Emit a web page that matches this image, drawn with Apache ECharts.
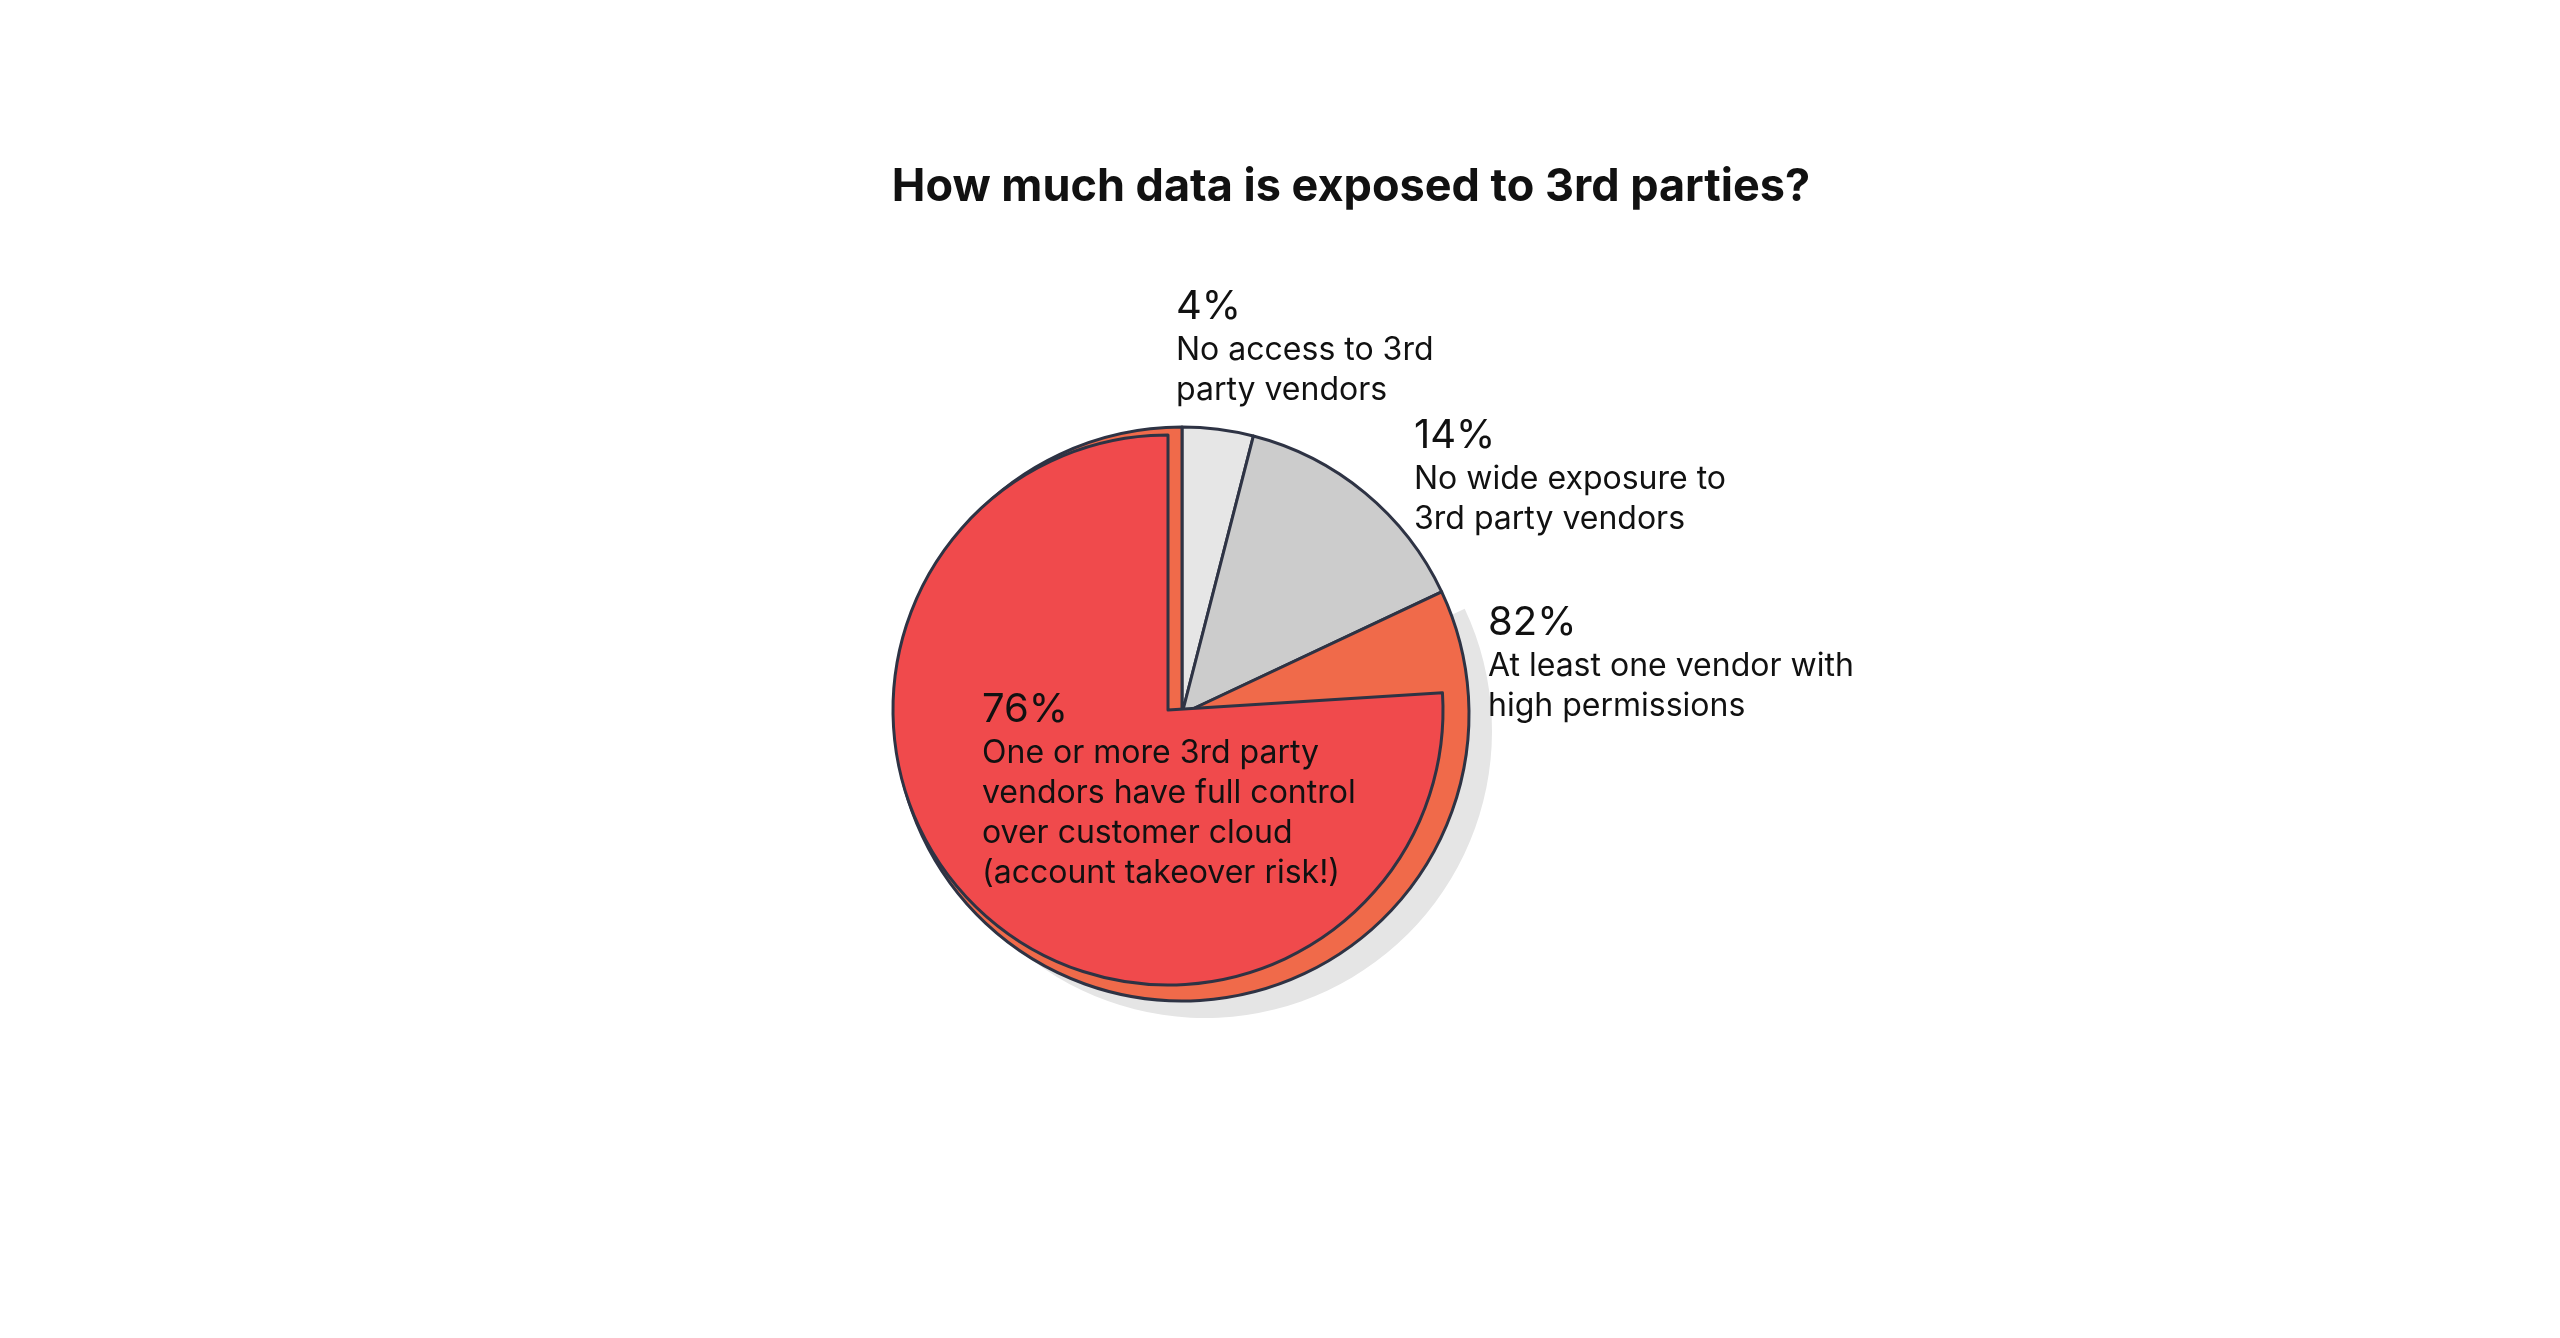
<!DOCTYPE html>
<html><head><meta charset="utf-8">
<script src="https://cdn.jsdelivr.net/npm/echarts@6/dist/echarts.min.js"></script>
<style>html,body{margin:0;background:#fff}#c{width:2560px;height:1338px}</style>
</head><body><div id="c"></div>
<script>
const categories = ['No access to 3rd party vendors','No wide exposure to 3rd party vendors','At least one vendor with high permissions'];
const values = [4, 14, 82];
const innerValue = 76;
const innerLabel = 'One or more 3rd party vendors have full control over customer cloud (account takeover risk!)';
const colors = ['#e6e6e6','#cccccc','#f06a4a'];
const stroke = '#2e3344';
const chart = echarts.init(document.getElementById('c'));
const cx = 1182, cy = 714;
function txt(x,y,pct,lines){
  return {type:'text',z:100,left:x,top:y,style:{text:'{p|'+pct+'}\n'+lines.map(l=>'{t|'+l+'}').join('\n'),
    rich:{p:{fontSize:40,lineHeight:46,fill:'#111',fontFamily:'Inter'},t:{fontSize:32,lineHeight:40,fill:'#111',fontFamily:'Inter'}}}};
}
chart.setOption({
  title:{text:'How much data is exposed to 3rd parties?',left:1346,top:160,textAlign:'center',
    textStyle:{fontSize:45,fontWeight:'bold',color:'#111',fontFamily:'Inter'}},
  series:[
    {type:'pie',silent:true,z:1,center:[cx+23,cy+17],radius:287,startAngle:90,label:{show:false},
     data:values.map((v,i)=>({value:v,itemStyle:{color:i==2?'#e5e5e5':'rgba(0,0,0,0)'}}))},
    {type:'pie',silent:true,z:2,center:[cx,cy],radius:287,startAngle:90,label:{show:false},
     itemStyle:{borderColor:stroke,borderWidth:3},
     data:values.map((v,i)=>({value:v,itemStyle:{color:colors[i]}}))},
    {type:'pie',silent:true,z:3,center:[cx-14,cy-4],radius:275,startAngle:90,label:{show:false},
     data:[{value:100-innerValue,itemStyle:{color:'rgba(0,0,0,0)',borderWidth:0}},
           {value:innerValue,itemStyle:{color:'#f04a4c',borderColor:stroke,borderWidth:3}}]}
  ],
  graphic:[
    txt(1176,287,values[0]+'%',['No access to 3rd','party vendors']),
    txt(1414,416,values[1]+'%',['No wide exposure to','3rd party vendors']),
    txt(1488,603,values[2]+'%',['At least one vendor with','high permissions']),
    txt(982,690,innerValue+'%',['One or more 3rd party','vendors have full control','over customer cloud','(account takeover risk!)'])
  ]
});
</script></body></html>
